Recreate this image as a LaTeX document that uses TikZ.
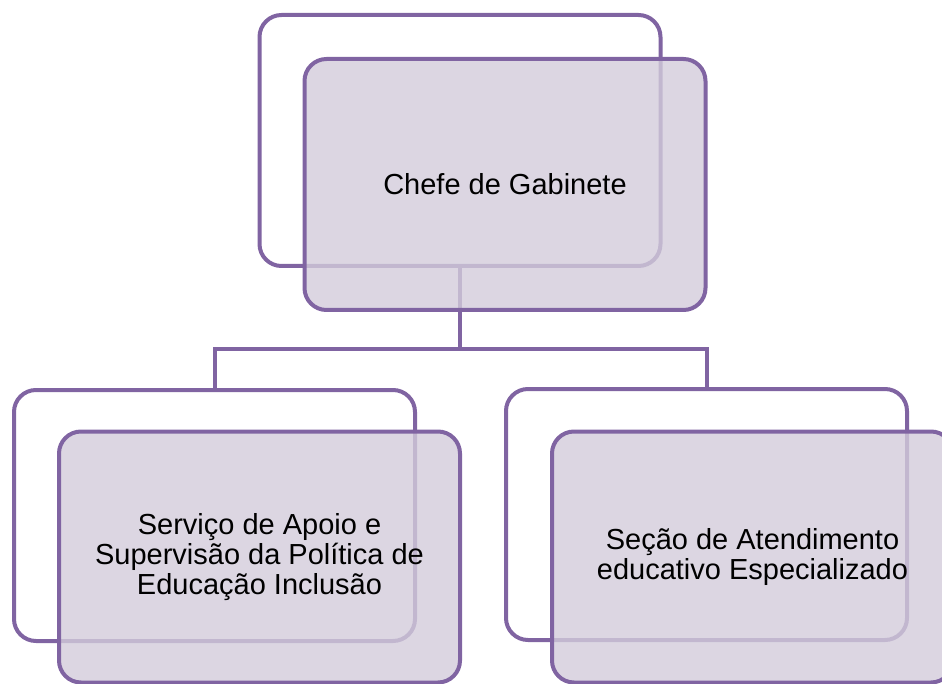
\documentclass[tikz,border=0pt]{standalone}
\usepackage{fontspec}
\setmainfont{Liberation Sans}
\usepackage{xcolor}
\usepackage{tikz}

\definecolor{orgline}{RGB}{128,100,162}
\definecolor{orgfill}{RGB}{211,204,219}

\begin{document}
\begin{tikzpicture}[
  x=1pt, y=-1pt,
  backbox/.style={rectangle, rounded corners=22pt, draw=orgline, line width=4pt, fill=none, minimum width=401pt, minimum height=251pt, inner sep=0pt, outer sep=0pt},
  frontbox/.style={backbox, fill=orgfill, fill opacity=0.8, text opacity=1, align=center, font=\fontsize{29}{30}\selectfont},
  link/.style={draw=orgline, line width=4pt}
]
\useasboundingbox (0,0) rectangle (942,684);

% Back boxes
\node[backbox] (chefeback) at (460,140.5) {};
\node[backbox] (apoioback) at (214.5,515.5) {};
\node[backbox] (secaoback) at (706.5,514.5) {};

% Connect boxes
\coordinate (split) at (460,349);
\draw[link] (chefeback.south) -- (split);
\draw[link] (split) -| (apoioback.north);
\draw[link] (split) -| (secaoback.north);

% Front boxes
\node[frontbox] (chefe) at (505,184.5) {Chefe de Gabinete};
\node[frontbox] (apoio) at (259.5,557) {Serviço de Apoio e\\Supervisão da Política de\\Educação Inclusão};
\node[frontbox] (secao) at (752.5,557) {Seção de Atendimento\\educativo Especializado};

\end{tikzpicture}
\end{document}
